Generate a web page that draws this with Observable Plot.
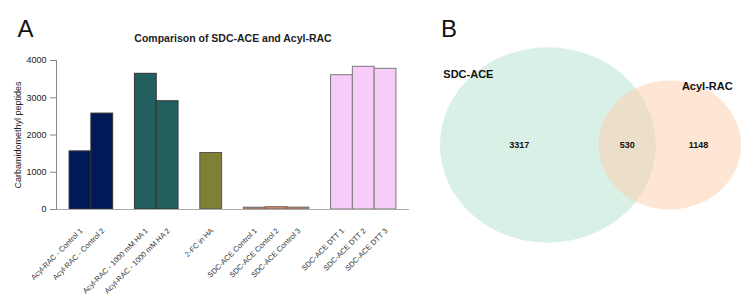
<!DOCTYPE html>
<html>
<head>
<meta charset="utf-8">
<script src="https://cdn.jsdelivr.net/npm/d3@7"></script>
<script src="https://cdn.jsdelivr.net/npm/@observablehq/plot@0.6"></script>
<style>
  body { margin: 0; background: #fff; }
  #fig { position: relative; width: 750px; height: 306px; overflow: hidden; background: #fff; }
  #fig svg { position: absolute; top: 0; }
</style>
</head>
<body>
<div id="fig"></div>
<script>
// ---- Panel A: carbamidomethyl peptides per sample ----
const sampleLabels = [
  "Acyl-RAC - Control 1", "Acyl-RAC - Control 2",
  "Acyl-RAC - 1000 mM HA 1", "Acyl-RAC - 1000 mM HA 2",
  "2-FC in HA",
  "SDC-ACE Control 1", "SDC-ACE Control 2", "SDC-ACE Control 3",
  "SDC-ACE DTT 1", "SDC-ACE DTT 2", "SDC-ACE DTT 3"
];
const peptideCounts = [1560, 2575, 3643, 2906, 1517, 48, 62, 50, 3605, 3831, 3777];
const sampleGroup = [0, 0, 1, 1, 2, 3, 3, 3, 4, 4, 4];
const groupColors = ["#001a57", "#22605f", "#7f8036", "#e38b5a", "#f8ccf8"];
const groupStrokes = ["#333", "#333", "#555", "#666", "#7a7a7a"];
const yTicks = [0, 1000, 2000, 3000, 4000];

// ---- Panel B: overlap of identified peptides ----
const vennNames = ["SDC-ACE", "Acyl-RAC"];
const vennOnly = [3317, 1148];
const vennShared = 530;
const vennFills = ["#b3e2cd", "#fdcdac"];

const font = 'Arial, "Liberation Sans", Helvetica, sans-serif';

// one empty slot between consecutive groups
const bars = sampleLabels.map((label, i) => ({
  label, value: peptideCounts[i], group: sampleGroup[i], slot: i + sampleGroup[i]
}));
const slotCount = sampleLabels.length + d3.max(sampleGroup);

const chartA = Plot.plot({
  width: 430, height: 306,
  marginLeft: 56, marginRight: 21, marginTop: 60, marginBottom: 97,
  style: { fontFamily: font, fontSize: "9px", color: "#222", background: "transparent", overflow: "visible" },
  x: { type: "band", domain: d3.range(slotCount), paddingInner: 0, paddingOuter: 0.6, round: false, axis: null },
  y: { domain: [0, 4000], axis: null },
  marks: [
    Plot.barY(bars, { x: "slot", y: "value", fill: d => groupColors[d.group], stroke: d => groupStrokes[d.group], strokeWidth: 1 }),
    Plot.ruleY([0], { stroke: "#aaa", insetLeft: -4 }),
    Plot.frame({ anchor: "left", stroke: "#888" }),
    Plot.axisY(yTicks, { tickSize: 6, tickPadding: 4, tickFormat: "d", stroke: "#888", fill: "#222", fontSize: 9, label: null }),
    Plot.text(bars, {
      x: "slot", frameAnchor: "bottom", text: "label", rotate: -45, textAnchor: "end", lineAnchor: "middle",
      dx: 1, dy: 20, fontSize: 7.5, fill: "#333"
    }),
    Plot.text(["Carbamidomethyl peptides"], {
      frameAnchor: "left", text: d => d, rotate: -90, textAnchor: "middle", lineAnchor: "middle", dx: -38, fontSize: 9
    }),
    Plot.text(["Comparison of SDC-ACE and Acyl-RAC"], {
      frameAnchor: "top", text: d => d, lineAnchor: "middle", dy: -22, fontSize: 10.5, fontWeight: "bold"
    }),
    Plot.text(["A"], {
      frameAnchor: "top-left", text: d => d, textAnchor: "start", lineAnchor: "middle", dx: -39, dy: -30.7, fontSize: 24, fill: "#111"
    })
  ]
});

// colour the leading "2" of the 2-FC label
d3.select(chartA).selectAll("text").each(function () {
  if (this.textContent === "2-FC in HA") {
    const t = d3.select(this);
    t.text(null);
    t.append("tspan").attr("fill", "#3a56c8").text("2");
    t.append("tspan").text("-FC in HA");
  }
});

// area-proportional two-set Venn geometry
const totals = vennOnly.map(v => v + vennShared);
const R = 97.7;                      // radius of the larger set, px
const aspect = 1.105;                // horizontal stretch of the diagram
const r1 = R, r2 = R * Math.sqrt(totals[1] / totals[0]);
function lensArea(a, b, d) {
  if (d >= a + b) return 0;
  if (d <= Math.abs(a - b)) return Math.PI * Math.min(a, b) ** 2;
  const p = a * a * Math.acos((d * d + a * a - b * b) / (2 * d * a));
  const q = b * b * Math.acos((d * d + b * b - a * a) / (2 * d * b));
  const s = 0.5 * Math.sqrt((-d + a + b) * (d + a - b) * (d - a + b) * (d + a + b));
  return p + q - s;
}
const targetLens = Math.PI * r1 * r1 * vennShared / totals[0];
let lo = Math.abs(r1 - r2), hi = r1 + r2;
for (let k = 0; k < 60; k++) {
  const mid = (lo + hi) / 2;
  if (lensArea(r1, r2, mid) > targetLens) lo = mid; else hi = mid;
}
const dist = (lo + hi) / 2;
const w1 = aspect * r1, w2 = aspect * r2, D = aspect * dist;
const W = w1 + D + w2;
const c1 = -W / 2 + w1, c2 = c1 + D;

const vennSets = vennNames.map((name, i) => ({ name, total: totals[i], fill: vennFills[i], cx: i ? c2 : c1 }));
const regionLabels = [
  { n: vennOnly[0], x: ((c1 - w1) + (c2 - w2)) / 2 },
  { n: vennShared, x: ((c2 - w2) + (c1 + w1)) / 2 },
  { n: vennOnly[1], x: ((c1 + w1) + (c2 + w2)) / 2 }
];
const catAngles = [-45.6, 30.2];
const catLabels = vennNames.map((name, i) => {
  const r = (i ? r2 : r1) + 3, a = catAngles[i] * Math.PI / 180;
  return { name, x: vennSets[i].cx + aspect * r * Math.sin(a), y: -r * Math.cos(a) };
});

const chartB = Plot.plot({
  width: 320, height: 306, margin: 0,
  style: { fontFamily: font, color: "#111", background: "transparent", overflow: "visible" },
  x: { domain: [-160, 160], axis: null },
  y: { domain: [161.5, -144.5], axis: null },
  r: { type: "sqrt", domain: [0, totals[0]], range: [0, R] },
  marks: [
    Plot.dot(vennSets, { x: "cx", y: () => 0, r: "total", fill: "fill", fillOpacity: 0.5, stroke: null }),
    Plot.text(regionLabels, { x: "x", y: () => 0, text: d => String(d.n), fontSize: 9, fontWeight: "bold" }),
    Plot.text(catLabels, { x: "x", y: "y", text: "name", fontSize: 11, fontWeight: "bold" }),
    Plot.text(["B"], {
      frameAnchor: "top-left", text: d => d, textAnchor: "start", lineAnchor: "middle", dx: 10.5, dy: 29.3, fontSize: 24
    })
  ]
});

// stretch each set circle horizontally about its own centre
d3.select(chartB).selectAll("circle").each(function () {
  const cx = +this.getAttribute("cx"), cy = +this.getAttribute("cy");
  this.setAttribute("transform", `translate(${cx},${cy}) scale(${aspect},1) translate(${-cx},${-cy})`);
});

const fig = document.getElementById("fig");
chartA.style.left = "0px";
chartB.style.left = "430px";
fig.append(chartA, chartB);
</script>
</body>
</html>
